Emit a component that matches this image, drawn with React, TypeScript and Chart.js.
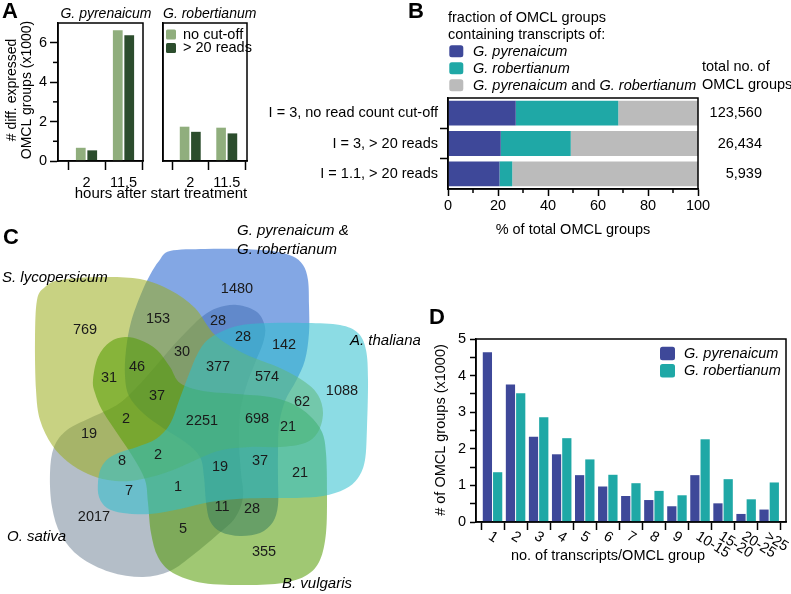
import React, { useEffect, useRef } from 'react';
import { Chart, registerables } from 'chart.js';

Chart.register(...registerables);

const FONT = "'Liberation Sans', Arial, Helvetica, sans-serif";
Chart.defaults.font.family = FONT;
Chart.defaults.color = '#000';

// ---------------- Panel A data ----------------
const hourLabels = ['2', '11.5'];
const seriesA = ['no cut-off', '> 20 reads'];
const pyrNoCutoff = [0.67, 6.63];
const pyrOver20 = [0.54, 6.38];
const robNoCutoff = [1.74, 1.69];
const robOver20 = [1.48, 1.4];
const aMajorTicks = [0, 2, 4, 6];
const aMinorTicks = [1, 3, 5];

// ---------------- Panel B data ----------------
const bCategories = ['I = 3, no read count cut-off', 'I = 3, > 20 reads', 'I = 1.1, > 20 reads'];
const bSeries = ['G. pyrenaicum', 'G. robertianum', 'G. pyrenaicum and G. robertianum'];
const bPyr = [27.1, 21.1, 20.6];
const bRob = [41.0, 28.0, 5.1];
const bBoth = [31.9, 50.9, 74.3];
const bTotals = ['123,560', '26,434', '5,939'];
const bMajorTicks = [0, 20, 40, 60, 80, 100];
const bMinorTicks = [10, 30, 50, 70, 90];

// ---------------- Panel C data ----------------
const vennSetNames = [
  ['G. pyrenaicum &', 'G. robertianum'],
  ['A. thaliana'],
  ['B. vulgaris'],
  ['O. sativa'],
  ['S. lycopersicum'],
];
const vennCounts = [1480, 769, 153, 28, 28, 142, 30, 46, 31, 377, 574, 1088, 37, 62, 2, 2251, 698, 21, 19, 2, 8, 37, 19, 21, 7, 1, 11, 28, 2017, 5, 355];

// ---------------- Panel D data ----------------
const dCategories = ['1', '2', '3', '4', '5', '6', '7', '8', '9', '10-15', '15-20', '20-25', '>25'];
const dSeries = ['G. pyrenaicum', 'G. robertianum'];
const dPyr = [4.64, 3.76, 2.33, 1.85, 1.28, 0.97, 0.71, 0.6, 0.43, 1.28, 0.51, 0.22, 0.34];
const dRob = [1.36, 3.52, 2.86, 2.29, 1.71, 1.29, 1.06, 0.85, 0.73, 2.26, 1.17, 0.62, 1.08];
const dYTicks = [0, 0.5, 1, 1.5, 2, 2.5, 3, 3.5, 4, 4.5, 5];

// ---------------- styles & layout ----------------
const GREEN_LIGHT = '#90AE7D';
const GREEN_DARK = '#2C4D2D';
const BLUE = '#3E4899';
const TEAL = '#1FA8A6';
const GREY = '#BBBBBB';
const VENN_COLORS = [
  'rgba(30,95,205,0.55)',
  'rgba(46,191,206,0.55)',
  'rgba(82,155,0,0.55)',
  'rgba(119,137,155,0.55)',
  'rgba(155,173,28,0.55)',
];
const VENN_DRAW_ORDER = [3, 0, 4, 2, 1];
// diagram geometry: outline of each set (same order as vennSetNames), in diagram coordinates
const VENN_OUTLINES = [
  [[170, 251], [205, 249], [240, 249], [272, 251], [292, 256], [303, 265], [308, 280], [309, 305], [309, 333],
    [305, 360], [296, 381], [285, 401], [279, 425], [278, 452], [278, 480], [278, 505], [273, 522], [260, 533],
    [240, 536], [221, 532], [210, 521], [206, 502], [204, 477], [200, 457], [185, 442], [163, 428], [143, 413],
    [129, 396], [125, 376], [126, 350], [131, 322], [141, 294], [150, 275], [159, 261]],
  [[210, 338], [237, 326], [270, 323], [307, 323], [340, 325], [358, 333], [366, 350], [368, 380], [367, 427],
    [365, 460], [358, 478], [345, 489], [323, 496], [293, 498], [263, 498], [237, 499], [210, 502], [180, 509],
    [150, 514], [123, 513], [107, 508], [99, 497], [98, 482], [101, 468], [109, 458], [121, 452], [137, 447],
    [156, 439], [170, 424], [180, 398], [189, 374], [198, 353]],
  [[93, 380], [98, 357], [110, 342], [125, 337], [140, 340], [157, 350], [170, 367], [180, 383], [203, 391],
    [237, 394], [270, 397], [293, 404], [310, 416], [322, 432], [326, 453], [327, 493], [326, 533], [320, 560],
    [307, 575], [283, 583], [247, 585], [203, 583], [173, 573], [158, 557], [151, 533], [148, 503], [145, 480],
    [133, 457], [117, 433], [102, 410], [95, 393]],
  [[217, 308], [237, 305], [257, 312], [265, 327], [263, 343], [255, 363], [246, 387], [240, 413], [239, 443],
    [241, 473], [243, 497], [235, 518], [217, 535], [193, 555], [170, 571], [143, 577], [110, 572], [80, 557],
    [61, 535], [52, 507], [50, 473], [54, 447], [67, 430], [90, 418], [117, 405], [137, 387], [155, 367],
    [172, 347], [190, 328], [203, 316]],
  [[37, 300], [45, 287], [60, 280], [100, 277], [140, 279], [170, 290], [195, 308], [215, 335], [245, 354],
    [280, 368], [305, 382], [318, 395], [323, 413], [318, 432], [305, 443], [280, 447], [250, 447], [222, 450],
    [200, 458], [178, 468], [155, 476], [130, 481], [108, 480], [88, 474], [68, 462], [52, 445], [40, 420],
    [36, 390], [35, 340]],
];
const vennLabelXY = [
  [237, 289], [85, 330], [158, 319], [218, 321], [243, 337], [284, 345], [182, 352], [137, 367], [109, 378],
  [218, 367], [267, 377], [342, 391], [157, 396], [302, 402], [126, 419], [202, 421], [257, 419], [288, 427],
  [89, 434], [158, 455], [122, 461], [260, 461], [220, 467], [300, 473], [129, 491], [178, 487], [222, 507],
  [252, 509], [94, 517], [183, 529], [264, 552],
];
const vennNameXY = [[237, 235], [350, 345], [282, 588], [7, 541], [2, 282]];

const BOX = {
  a1: { left: 0, top: 0, width: 260, height: 200 },
  a2: { left: 152, top: 0, width: 108, height: 200 },
  b: { left: 240, top: 0, width: 551, height: 240 },
  c: { left: 0, top: 220, width: 420, height: 374 },
  d: { left: 380, top: 290, width: 411, height: 304 },
};
const BX = BOX.b.left;

const f = (size: number, style = 'normal', weight = 'normal') => `${style} ${weight} ${size}px ${FONT}`;

const framePlugin = () => ({
  id: 'frame',
  afterDatasetsDraw(chart: any) {
    const { ctx, chartArea: a } = chart;
    ctx.save();
    ctx.strokeStyle = '#000';
    ctx.lineWidth = 1.5;
    ctx.strokeRect(a.left, a.top, a.right - a.left, a.bottom - a.top);
    ctx.restore();
  },
});

const baseOptions = {
  responsive: false,
  animation: false,
  devicePixelRatio: 1,
  events: [],
};

function legendSquare(ctx: any, x: number, y: number, w: number, h: number, color: string, r: number) {
  ctx.fillStyle = color;
  ctx.beginPath();
  if (ctx.roundRect) ctx.roundRect(x, y, w, h, r);
  else ctx.rect(x, y, w, h);
  ctx.fill();
}

function makeA(values: number[][], o: any) {
  return {
    type: 'bar',
    data: {
      datasets: values.map((vals, di) => ({
        label: seriesA[di],
        data: vals.map((y, i) => ({ x: i, y })),
        backgroundColor: di === 0 ? GREEN_LIGHT : GREEN_DARK,
        categoryPercentage: 0.62,
        barPercentage: 0.85,
      })),
    },
    options: {
      ...baseOptions,
      layout: { padding: { left: 0, right: o.padRight, top: 23, bottom: 0 } },
      plugins: { legend: { display: false }, tooltip: { enabled: false } },
      scales: {
        x: {
          type: 'linear', min: o.xMin, max: o.xMax, offset: false, bounds: 'data',
          afterBuildTicks: (s: any) => { s.ticks = hourLabels.map((_, i) => ({ value: i })); },
          afterFit: (s: any) => { s.height = 39; },
          grid: { offset: true, drawOnChartArea: false, tickLength: 9, tickWidth: 1.5, tickColor: '#000' },
          border: { display: true, color: '#000', width: 1.5 },
          ticks: {
            autoSkip: false, maxRotation: 0, minRotation: 0, padding: 4, color: '#000',
            font: { size: 14.5 }, callback: (v: number) => hourLabels[v] ?? '',
          },
        },
        y: {
          type: 'linear', min: 0, max: 7, bounds: 'data',
          afterBuildTicks: (s: any) => { s.ticks = aMajorTicks.map((v) => ({ value: v })); },
          afterFit: (s: any) => { s.width = o.yWidth; },
          grid: { drawOnChartArea: false, drawTicks: o.showY, tickLength: 8, tickWidth: 1.5, tickColor: '#000' },
          border: { display: true, color: '#000', width: 1.5 },
          ticks: { display: o.showY, padding: 3, color: '#000', font: { size: 14.5 } },
        },
      },
    },
    plugins: [framePlugin(), { id: 'aText', afterDraw: o.draw }],
  };
}

const configA1 = () =>
  makeA([pyrNoCutoff, pyrOver20], {
    padRight: 117, yWidth: 58, showY: true, xMin: -0.5 - 10 / 37, xMax: 1.5 + 1 / 37,
    draw: (chart: any) => {
      const { ctx, chartArea: a } = chart;
      const y = chart.scales.y;
      ctx.save();
      ctx.strokeStyle = '#000';
      ctx.lineWidth = 1.5;
      aMinorTicks.forEach((v) => {
        const py = y.getPixelForValue(v);
        ctx.beginPath();
        ctx.moveTo(a.left - 5, py);
        ctx.lineTo(a.left, py);
        ctx.stroke();
      });
      ctx.fillStyle = '#000';
      ctx.textBaseline = 'alphabetic';
      ctx.textAlign = 'left';
      ctx.font = f(22, 'normal', 'bold');
      ctx.fillText('A', 2, 18);
      ctx.textAlign = 'center';
      ctx.font = f(14, 'italic');
      ctx.fillText('G. pyrenaicum', 106, 18);
      ctx.font = f(15);
      ctx.fillText('hours after start treatment', 161, 198);
      ctx.translate(12, 90);
      ctx.rotate(-Math.PI / 2);
      ctx.textBaseline = 'middle';
      ctx.font = f(14);
      ctx.fillText('# diff. expressed', 0, 0);
      ctx.fillText('OMCL groups (x1000)', 0, 15);
      ctx.restore();
    },
  });

const configA2 = () =>
  makeA([robNoCutoff, robOver20], {
    padRight: 13, yWidth: 11, showY: false, xMin: -0.5 - 9 / 36.5, xMax: 1.5 + 2 / 36.5,
    draw: (chart: any) => {
      const { ctx } = chart;
      ctx.save();
      ctx.fillStyle = '#000';
      ctx.textAlign = 'center';
      ctx.textBaseline = 'alphabetic';
      ctx.font = f(14, 'italic');
      ctx.fillText('G. robertianum', 57.7, 18);
      const rows = [29.5, 43];
      chart.data.datasets.forEach((ds: any, i: number) => {
        legendSquare(ctx, 14, rows[i], 10, 10, ds.backgroundColor, 1.5);
        ctx.fillStyle = '#000';
        ctx.textAlign = 'left';
        ctx.textBaseline = 'middle';
        ctx.font = f(14.5);
        ctx.fillText(ds.label, 31, rows[i] + 5);
      });
      ctx.restore();
    },
  });

const configB = () => ({
  type: 'bar',
  data: {
    labels: bCategories,
    datasets: [bPyr, bRob, bBoth].map((vals, i) => ({
      label: bSeries[i],
      data: vals,
      backgroundColor: [BLUE, TEAL, GREY][i],
      barPercentage: 0.82,
      categoryPercentage: 1,
    })),
  },
  options: {
    ...baseOptions,
    indexAxis: 'y',
    layout: { padding: { left: 0, right: 93, top: 98, bottom: 0 } },
    plugins: { legend: { display: false }, tooltip: { enabled: false } },
    scales: {
      x: {
        type: 'linear', stacked: true, min: 0, max: 100, bounds: 'data',
        afterBuildTicks: (s: any) => { s.ticks = bMajorTicks.map((v) => ({ value: v })); },
        afterFit: (s: any) => { s.height = 51; },
        grid: { drawOnChartArea: false, tickLength: 7, tickWidth: 1.5, tickColor: '#000' },
        border: { display: true, color: '#000', width: 1.5 },
        ticks: { autoSkip: false, maxRotation: 0, padding: 1, color: '#000', font: { size: 14.5 } },
      },
      y: {
        type: 'category', stacked: true,
        afterFit: (s: any) => { s.width = 448 - BX; },
        grid: {
          offset: true, drawOnChartArea: false, tickLength: 8, tickWidth: 1.5,
          tickColor: (c: any) => (c.index === 1 || c.index === 2 ? '#000' : 'rgba(0,0,0,0)'),
        },
        border: { display: true, color: '#000', width: 1.5 },
        ticks: { autoSkip: false, padding: 2, color: '#000', font: { size: 14.5 } },
      },
    },
  },
  plugins: [
    framePlugin(),
    {
      id: 'bText',
      afterDraw(chart: any) {
        const { ctx, chartArea: a } = chart;
        const xs = chart.scales.x;
        const ys = chart.scales.y;
        ctx.save();
        ctx.strokeStyle = '#000';
        ctx.lineWidth = 1.5;
        bMinorTicks.forEach((v) => {
          const px = xs.getPixelForValue(v);
          ctx.beginPath();
          ctx.moveTo(px, a.bottom);
          ctx.lineTo(px, a.bottom + 4);
          ctx.stroke();
        });
        ctx.fillStyle = '#000';
        ctx.textBaseline = 'alphabetic';
        ctx.textAlign = 'left';
        ctx.font = f(22, 'normal', 'bold');
        ctx.fillText('B', 408 - BX, 18);
        ctx.font = f(14.5);
        ctx.fillText('fraction of OMCL groups', 448 - BX, 22);
        ctx.fillText('containing transcripts of:', 448 - BX, 39);
        ctx.fillText('total no. of', 702 - BX, 71);
        ctx.fillText('OMCL groups', 702 - BX, 89);
        const rowsY = [45.3, 62.3, 79.3];
        chart.data.datasets.forEach((ds: any, i: number) => {
          legendSquare(ctx, 449.3 - BX, rowsY[i], 14, 12, ds.backgroundColor, 2.5);
          ctx.fillStyle = '#000';
          ctx.textBaseline = 'middle';
          let x = 473 - BX;
          const yy = rowsY[i] + 6.5;
          if (i < 2) {
            ctx.font = f(14.5, 'italic');
            ctx.fillText(ds.label, x, yy);
          } else {
            const parts = ds.label.split(' and ');
            ctx.font = f(14.5, 'italic');
            ctx.fillText(parts[0], x, yy);
            x += ctx.measureText(parts[0]).width;
            ctx.font = f(14.5);
            ctx.fillText(' and ', x, yy);
            x += ctx.measureText(' and ').width;
            ctx.font = f(14.5, 'italic');
            ctx.fillText(parts[1], x, yy);
          }
        });
        ctx.font = f(14.5);
        ctx.textAlign = 'right';
        ctx.textBaseline = 'middle';
        bTotals.forEach((t, i) => ctx.fillText(t, 762 - BX, ys.getPixelForValue(i)));
        ctx.textAlign = 'center';
        ctx.textBaseline = 'alphabetic';
        ctx.fillText('% of total OMCL groups', 573 - BX, 233.5);
        ctx.restore();
      },
    },
  ],
});

function smoothClosedPath(ctx: any, p: number[][]) {
  const n = p.length;
  ctx.beginPath();
  ctx.moveTo(p[0][0], p[0][1]);
  for (let i = 0; i < n; i++) {
    const p0 = p[(i - 1 + n) % n];
    const p1 = p[i];
    const p2 = p[(i + 1) % n];
    const p3 = p[(i + 2) % n];
    ctx.bezierCurveTo(
      p1[0] + (p2[0] - p0[0]) / 6, p1[1] + (p2[1] - p0[1]) / 6,
      p2[0] - (p3[0] - p1[0]) / 6, p2[1] - (p3[1] - p1[1]) / 6,
      p2[0], p2[1],
    );
  }
  ctx.closePath();
}

const configC = () => ({
  type: 'scatter',
  data: {
    datasets: [
      {
        label: 'OMCL groups',
        data: vennLabelXY.map(([x, y]) => ({ x, y })),
        pointRadius: 0,
      },
    ],
  },
  options: {
    ...baseOptions,
    layout: { padding: 0 },
    plugins: { legend: { display: false }, tooltip: { enabled: false } },
    scales: {
      x: { type: 'linear', min: 0, max: 420, display: false },
      y: { type: 'linear', min: 220, max: 594, reverse: true, display: false },
    },
  },
  plugins: [
    {
      id: 'venn',
      beforeDatasetsDraw(chart: any) {
        const { ctx } = chart;
        const xs = chart.scales.x;
        const ys = chart.scales.y;
        ctx.save();
        VENN_DRAW_ORDER.forEach((k) => {
          const pts = VENN_OUTLINES[k].map(([x, y]) => [xs.getPixelForValue(x), ys.getPixelForValue(y)]);
          smoothClosedPath(ctx, pts);
          ctx.fillStyle = VENN_COLORS[k];
          ctx.fill();
        });
        ctx.restore();
      },
      afterDatasetsDraw(chart: any) {
        const { ctx } = chart;
        const xs = chart.scales.x;
        const ys = chart.scales.y;
        const meta = chart.getDatasetMeta(0);
        ctx.save();
        ctx.fillStyle = '#1a1a1a';
        ctx.textAlign = 'center';
        ctx.textBaseline = 'middle';
        ctx.font = f(14.5);
        meta.data.forEach((el: any, i: number) => {
          ctx.fillText(String(vennCounts[i]), el.x, el.y);
        });
        ctx.fillStyle = '#000';
        ctx.textAlign = 'left';
        ctx.textBaseline = 'alphabetic';
        ctx.font = f(15, 'italic');
        vennSetNames.forEach((lines, i) => {
          const [x, y] = vennNameXY[i];
          lines.forEach((line, j) => {
            ctx.fillText(line, xs.getPixelForValue(x), ys.getPixelForValue(y + j * 19));
          });
        });
        ctx.font = f(22, 'normal', 'bold');
        ctx.fillText('C', 3, 24);
        ctx.restore();
      },
    },
  ],
});

const configD = () => ({
  type: 'bar',
  data: {
    datasets: [dPyr, dRob].map((vals, di) => ({
      label: dSeries[di],
      data: vals.map((y, i) => ({ x: i, y })),
      backgroundColor: di === 0 ? BLUE : TEAL,
      categoryPercentage: 0.89,
      barPercentage: 0.9,
    })),
  },
  options: {
    ...baseOptions,
    layout: { padding: { left: 0, right: 5, top: 49, bottom: 0 } },
    plugins: { legend: { display: false }, tooltip: { enabled: false } },
    scales: {
      x: {
        type: 'linear', min: -0.5 - 5 / 23.05, max: 12.5 + 5.3 / 23.05, offset: false, bounds: 'data',
        afterBuildTicks: (s: any) => { s.ticks = dCategories.map((_, i) => ({ value: i })); },
        afterFit: (s: any) => { s.height = 72; },
        grid: { offset: true, drawOnChartArea: false, tickLength: 8, tickWidth: 1.5, tickColor: '#000' },
        border: { display: true, color: '#000', width: 1.5 },
        ticks: { display: false, autoSkip: false },
      },
      y: {
        type: 'linear', min: 0, max: 5, bounds: 'data',
        afterBuildTicks: (s: any) => { s.ticks = dYTicks.map((v) => ({ value: v })); },
        afterFit: (s: any) => { s.width = 96; },
        grid: { drawOnChartArea: false, tickLength: 6, tickWidth: 1.5, tickColor: '#000' },
        border: { display: true, color: '#000', width: 1.5 },
        ticks: {
          autoSkip: false, padding: 4, color: '#000', font: { size: 14.5 },
          callback: (v: number) => (Number.isInteger(v) ? String(v) : ''),
        },
      },
    },
  },
  plugins: [
    framePlugin(),
    {
      id: 'dText',
      afterDraw(chart: any) {
        const { ctx, chartArea: a } = chart;
        const xs = chart.scales.x;
        ctx.save();
        ctx.fillStyle = '#000';
        ctx.textAlign = 'left';
        ctx.textBaseline = 'alphabetic';
        ctx.font = f(22, 'normal', 'bold');
        ctx.fillText('D', 49, 34);
        const rows = [56.7, 74];
        chart.data.datasets.forEach((ds: any, i: number) => {
          legendSquare(ctx, 280, rows[i], 15, 13.5, ds.backgroundColor, 2.5);
          ctx.fillStyle = '#000';
          ctx.textBaseline = 'middle';
          ctx.font = f(14.5, 'italic');
          ctx.fillText(ds.label, 304, rows[i] + 7);
        });
        ctx.font = f(14.5);
        dCategories.forEach((lab, i) => {
          const px = xs.getPixelForValue(i);
          ctx.save();
          ctx.translate(px - 3, a.bottom + 13);
          ctx.rotate((32 * Math.PI) / 180);
          ctx.textAlign = 'left';
          ctx.textBaseline = 'middle';
          ctx.fillText(lab, 0, 0);
          ctx.restore();
        });
        ctx.textAlign = 'center';
        ctx.textBaseline = 'alphabetic';
        ctx.fillText('no. of transcripts/OMCL group', 228, 270);
        ctx.translate(61, 140);
        ctx.rotate(-Math.PI / 2);
        ctx.textBaseline = 'middle';
        ctx.fillText('# of OMCL groups (x1000)', 0, 0);
        ctx.restore();
      },
    },
  ],
});

function ChartCanvas({ box, config }: { box: any; config: () => any }) {
  const ref = useRef<HTMLCanvasElement | null>(null);
  useEffect(() => {
    if (!ref.current) return;
    const chart = new Chart(ref.current, config());
    return () => chart.destroy();
  }, []);
  return (
    <canvas
      ref={ref}
      width={box.width}
      height={box.height}
      style={{ position: 'absolute', left: box.left, top: box.top, width: box.width, height: box.height, display: 'block' }}
    />
  );
}

export default function App() {
  return (
    <div style={{ position: 'fixed', left: 0, top: 0, width: 791, height: 594, background: '#fff', overflow: 'hidden' }}>
      <ChartCanvas box={BOX.c} config={configC} />
      <ChartCanvas box={BOX.a1} config={configA1} />
      <ChartCanvas box={BOX.a2} config={configA2} />
      <ChartCanvas box={BOX.b} config={configB} />
      <ChartCanvas box={BOX.d} config={configD} />
    </div>
  );
}
